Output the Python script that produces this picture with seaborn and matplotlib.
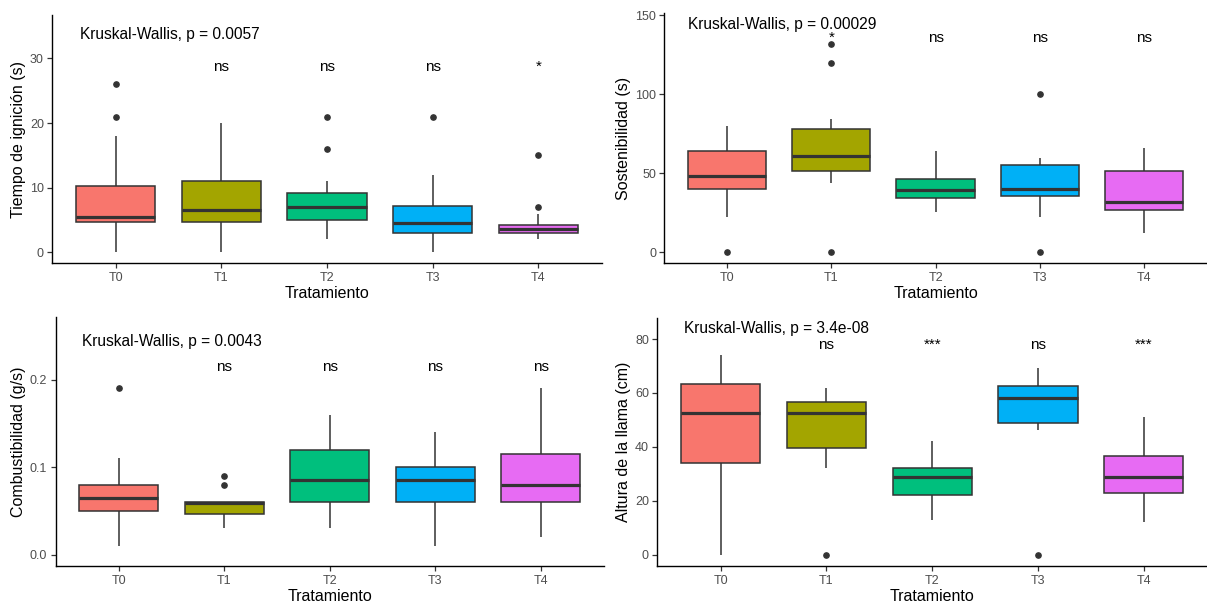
import matplotlib
matplotlib.use("Agg")
import matplotlib.pyplot as plt
import seaborn as sns
import pandas as pd

# ---------------- data ----------------
groups = ["T0", "T1", "T2", "T3", "T4"]
colors = ["#F8766D", "#A3A500", "#00BF7D", "#00B0F6", "#E76BF3"]

tiempo_values = [
    [0, 4.75, 4.75, 4.75, 5.5, 5.5, 5.5, 10.2, 10.2, 10.2, 18, 21, 26],
    [0, 4.75, 4.75, 4.75, 6.5, 6.5, 6.5, 11, 11, 11, 11, 11, 20],
    [2, 5, 5, 5, 7, 7, 7, 9.2, 9.2, 9.2, 11, 16, 21],
    [0, 3, 3, 3, 4.5, 4.5, 4.5, 7.2, 7.2, 7.2, 7.2, 12, 21],
    [2, 3, 3, 3, 3.55, 3.55, 3.55, 4.2, 4.2, 4.2, 5.9, 7, 15],
]
sosten_values = [
    [0, 22, 40, 40, 48, 48, 48, 64.3, 64.3, 64.3, 64.3, 64.3, 80],
    [0, 44, 51.6, 51.6, 61, 61, 61, 78.2, 78.2, 78.2, 84, 120, 132],
    [25.3, 34.3, 34.3, 34.3, 39.4, 39.4, 39.4, 46.6, 46.6, 46.6, 46.6, 46.6, 63.8],
    [0, 22, 35.6, 35.6, 40, 40, 40, 55, 55, 55, 55, 59.6, 100],
    [12.2, 27, 27, 27, 31.6, 31.6, 31.6, 51.6, 51.6, 51.6, 51.6, 51.6, 65.9],
]
combust_values = [
    [0.01, 0.05, 0.05, 0.05, 0.065, 0.065, 0.065, 0.08, 0.08, 0.08, 0.08, 0.11, 0.19],
    [0.03, 0.047, 0.047, 0.047, 0.059, 0.059, 0.059, 0.06, 0.06, 0.06, 0.06, 0.08, 0.09],
    [0.03, 0.06, 0.06, 0.06, 0.085, 0.085, 0.085, 0.12, 0.12, 0.12, 0.12, 0.12, 0.16],
    [0.01, 0.06, 0.06, 0.06, 0.085, 0.085, 0.085, 0.1, 0.1, 0.1, 0.1, 0.1, 0.14],
    [0.02, 0.06, 0.06, 0.06, 0.08, 0.08, 0.08, 0.115, 0.115, 0.115, 0.115, 0.115, 0.19],
]
altura_values = [
    [0, 34.1, 34.1, 34.1, 52.5, 52.5, 52.5, 63.4, 63.4, 63.4, 63.4, 63.4, 74],
    [0, 32, 39.7, 39.7, 52.5, 52.5, 52.5, 56.6, 56.6, 56.6, 56.6, 56.6, 62],
    [13, 22, 22, 22, 29, 29, 29, 32, 32, 32, 32, 32, 42],
    [0, 46.2, 48.7, 48.7, 58.1, 58.1, 58.1, 62.7, 62.7, 62.7, 62.7, 62.7, 69.2],
    [12, 22.8, 22.8, 22.8, 29, 29, 29, 36.6, 36.6, 36.6, 36.6, 36.6, 51],
]

tiempo_sig = ["", "ns", "ns", "ns", "*"]
sosten_sig = ["", "*", "ns", "ns", "ns"]
combust_sig = ["", "ns", "ns", "ns", "ns"]
altura_sig = ["", "ns", "***", "ns", "***"]

tiempo_kw = "Kruskal-Wallis, p = 0.0057"
sosten_kw = "Kruskal-Wallis, p = 0.00029"
combust_kw = "Kruskal-Wallis, p = 0.0043"
altura_kw = "Kruskal-Wallis, p = 3.4e-08"

tiempo_ticks = [0, 10, 20, 30]
sosten_ticks = [0, 50, 100, 150]
combust_ticks = [0.0, 0.1, 0.2]
altura_ticks = [0, 20, 40, 60, 80]

# ---------------- figure ----------------
sns.set_theme(style="white")
plt.rcParams["font.family"] = ["Liberation Sans", "DejaVu Sans"]

fig = plt.figure(figsize=(12.07, 6.06), dpi=100)

panels = [
    dict(vals=tiempo_values, sig=tiempo_sig, kw=tiempo_kw, ticks=tiempo_ticks,
         tl=["0", "10", "20", "30"], ylabel="Tiempo de ignición (s)",
         rect=[0.0433, 0.5655, 0.4552, 0.4097], ylim=(-1.7, 36.7),
         sig_y=28.0, kw_y=33.0, kw_x=-0.34),
    dict(vals=sosten_values, sig=sosten_sig, kw=sosten_kw, ticks=sosten_ticks,
         tl=["0", "50", "100", "150"], ylabel="Sostenibilidad (s)",
         rect=[0.5505, 0.5655, 0.4493, 0.4125], ylim=(-7.0, 151.1),
         sig_y=133.0, kw_y=141.0, kw_x=-0.37),
    dict(vals=combust_values, sig=combust_sig, kw=combust_kw, ticks=combust_ticks,
         tl=["0.0", "0.1", "0.2"], ylabel="Combustibilidad (g/s)",
         rect=[0.0461, 0.0655, 0.4543, 0.4119], ylim=(-0.0133, 0.272),
         sig_y=0.2095, kw_y=0.239, kw_x=-0.35),
    dict(vals=altura_values, sig=altura_sig, kw=altura_kw, ticks=altura_ticks,
         tl=["0", "20", "40", "60", "80"], ylabel="Altura de la llama (cm)",
         rect=[0.5446, 0.0655, 0.4554, 0.4102], ylim=(-4.3, 87.9),
         sig_y=76.3, kw_y=82.1, kw_x=-0.35),
]

edge = "#333333"
for p in panels:
    ax = fig.add_axes(p["rect"])
    rows = []
    for g, vals in zip(groups, p["vals"]):
        for v in vals:
            rows.append((g, v))
    df = pd.DataFrame(rows, columns=["Tratamiento", "valor"])
    sns.boxplot(data=df, x="Tratamiento", y="valor", hue="Tratamiento",
                order=groups, hue_order=groups, palette=colors, saturation=1,
                width=0.75, linecolor=edge, linewidth=1.1, fliersize=3.8,
                showcaps=False,
                flierprops=dict(marker="o", markerfacecolor=edge, markeredgecolor=edge),
                medianprops=dict(linewidth=2.3, color=edge),
                legend=False, ax=ax)
    ax.set_xlim(-0.6, 4.6)
    ax.set_ylim(*p["ylim"])
    ax.set_yticks(p["ticks"])
    ax.set_yticklabels(p["tl"])
    ax.set_ylabel(p["ylabel"], fontsize=11.5, color="black", labelpad=3)
    ax.set_xlabel("Tratamiento", fontsize=11.5, color="black", labelpad=1.5)
    for s in ["top", "right"]:
        ax.spines[s].set_visible(False)
    for s in ["left", "bottom"]:
        ax.spines[s].set_color("black")
        ax.spines[s].set_linewidth(1.0)
    ax.tick_params(axis="both", which="both", direction="out", length=3.5, width=0.9,
                   color=edge, labelcolor="#4D4D4D", labelsize=9, pad=2.5,
                   left=True, bottom=True)
    ax.grid(False)
    for i, s in enumerate(p["sig"]):
        if s:
            ax.text(i, p["sig_y"], s, ha="center", va="baseline", fontsize=11, color="black")
    ax.text(p["kw_x"], p["kw_y"], p["kw"], ha="left", va="baseline", fontsize=11.2, color="black")

fig.savefig("out.png", dpi=100)
